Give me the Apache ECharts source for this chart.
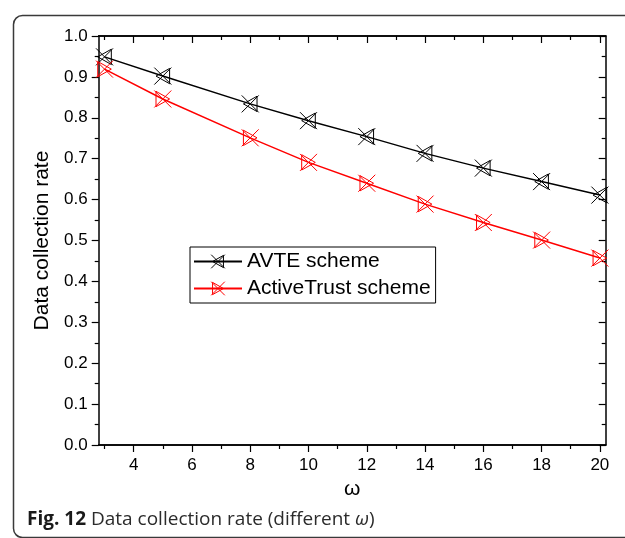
<!DOCTYPE html>
<html>
<head>
<meta charset="utf-8">
<script src="https://cdn.jsdelivr.net/npm/echarts@6/dist/echarts.min.js"></script>
<style>
  html, body {margin: 0; padding: 0; background: #fff;}
  #main {width: 625px; height: 538px;}
</style>
</head>
<body>
<div id="main"></div>
<script>
// omega values on the x axis
const omega_ls = [3, 5, 8, 10, 12, 14, 16, 18, 20];
// data collection rate
const avte_ls = [0.949, 0.902, 0.834, 0.793, 0.754, 0.713, 0.677, 0.644, 0.611];
const activetrust_ls = [0.919, 0.846, 0.751, 0.691, 0.640, 0.589, 0.544, 0.501, 0.457];
const legend_ls = ['AVTE scheme', 'ActiveTrust scheme'];
const xmajor_ls = [4, 6, 8, 10, 12, 14, 16, 18, 20];
const xminor_ls = [3, 5, 7, 9, 11, 13, 15, 17, 19];

const pair = (xs, ys) => xs.map((x, i) => [x, ys[i]]);

// X with a triangle, like the Origin markers
const sym_black = 'path://M0,0L20,20M20,0L0,20M2,10L18,1L18,19Z';
const sym_red = 'path://M0,0L20,20M20,0L0,20M18,10L2,1L2,19Z';

var chartDom = document.getElementById('main');
var myChart = echarts.init(chartDom, null, {renderer: 'canvas'});
var font = 'Liberation Sans, Arial, sans-serif';
var axLine = {show: true, lineStyle: {color: '#000', width: 1.5}};

function xAx(pos, ticks, len, inside, labels) {
  return {
    type: 'value', position: pos, min: 2.8, max: 20.2,
    axisLine: axLine,
    axisTick: {show: true, inside: inside, length: len, customValues: ticks, lineStyle: {color: '#000', width: 1.2}},
    axisLabel: labels ? {show: true, customValues: ticks, margin: 12, color: '#000', fontSize: 17, fontFamily: font} : {show: false},
    splitLine: {show: false}
  };
}

var option = {
  animation: false,
  grid: {left: 98.7, right: 19.3, top: 36, bottom: 93, containLabel: false},
  legend: {
    data: [
      {name: legend_ls[0], itemStyle: {color: 'transparent', borderColor: '#000', borderWidth: 1}},
      {name: legend_ls[1], itemStyle: {color: 'transparent', borderColor: '#ff0000', borderWidth: 1}}
    ],
    orient: 'vertical', left: 190, top: 247,
    padding: [4, 5, 4, 3], itemWidth: 48, itemHeight: 17, itemGap: 6,
    borderColor: '#000', borderWidth: 1, borderRadius: 0, backgroundColor: '#fff',
    textStyle: {color: '#000', fontSize: 21, fontFamily: font, padding: [0, 0, 0, 0]}
  },
  xAxis: [
    Object.assign(xAx('bottom', xmajor_ls, 7, false, true), {
      name: 'ω', nameLocation: 'middle', nameGap: 33,
      nameTextStyle: {color: '#000', fontSize: 21, fontFamily: font}
    }),
    xAx('bottom', xminor_ls, 4, false, false),
    xAx('top', xmajor_ls, 7, true, false),
    xAx('top', xminor_ls, 4, true, false)
  ],
  yAxis: [
    {type: 'value', position: 'left', min: 0, max: 1, interval: 0.1,
     name: 'Data collection rate', nameLocation: 'middle', nameGap: 43,
     nameTextStyle: {color: '#000', fontSize: 21, fontFamily: font},
     axisLine: axLine,
     axisTick: {show: true, length: 7, lineStyle: {color: '#000', width: 1.2}},
     minorTick: {show: true, splitNumber: 2, length: 4, lineStyle: {color: '#000', width: 1.2}},
     axisLabel: {color: '#000', fontSize: 17, fontFamily: font, margin: 11, formatter: v => v.toFixed(1)},
     splitLine: {show: false}},
    {type: 'value', position: 'right', min: 0, max: 1, interval: 0.1,
     axisLine: axLine,
     axisTick: {show: true, inside: true, length: 7, lineStyle: {color: '#000', width: 1.2}},
     minorTick: {show: true, splitNumber: 2, length: 4, lineStyle: {color: '#000', width: 1.2}},
     axisLabel: {show: false},
     splitLine: {show: false}}
  ],
  series: [
    {name: legend_ls[0], type: 'line', data: pair(omega_ls, avte_ls),
     symbol: sym_black, symbolSize: 17, showAllSymbol: true,
     lineStyle: {color: '#000', width: 1.5},
     itemStyle: {color: 'transparent', borderColor: '#000', borderWidth: 1}},
    {name: legend_ls[1], type: 'line', data: pair(omega_ls, activetrust_ls),
     symbol: sym_red, symbolSize: 17, showAllSymbol: true,
     lineStyle: {color: '#ff0000', width: 1.5},
     itemStyle: {color: 'transparent', borderColor: '#ff0000', borderWidth: 1}}
  ],
  graphic: [
    {type: 'rect', left: 11, top: 13, shape: {width: 680, height: 522, r: 9},
     style: {fill: 'none', stroke: '#3a3a3a', lineWidth: 1.5}, silent: true},
    {type: 'text', left: 27, top: 510,
     style: {
       text: '{b|Fig. 12} Data collection rate (different {i|ω})',
       fill: '#2b2b2b', font: '19px "Open Sans", sans-serif',
       rich: {
         b: {fontWeight: 'bold', fontSize: 19, fontFamily: 'Open Sans', fill: '#1a1a1a'},
         i: {fontStyle: 'italic', fontSize: 19, fontFamily: 'Open Sans', fill: '#2b2b2b'}
       }
     }}
  ]
};

option && myChart.setOption(option);
</script>
</body>
</html>
